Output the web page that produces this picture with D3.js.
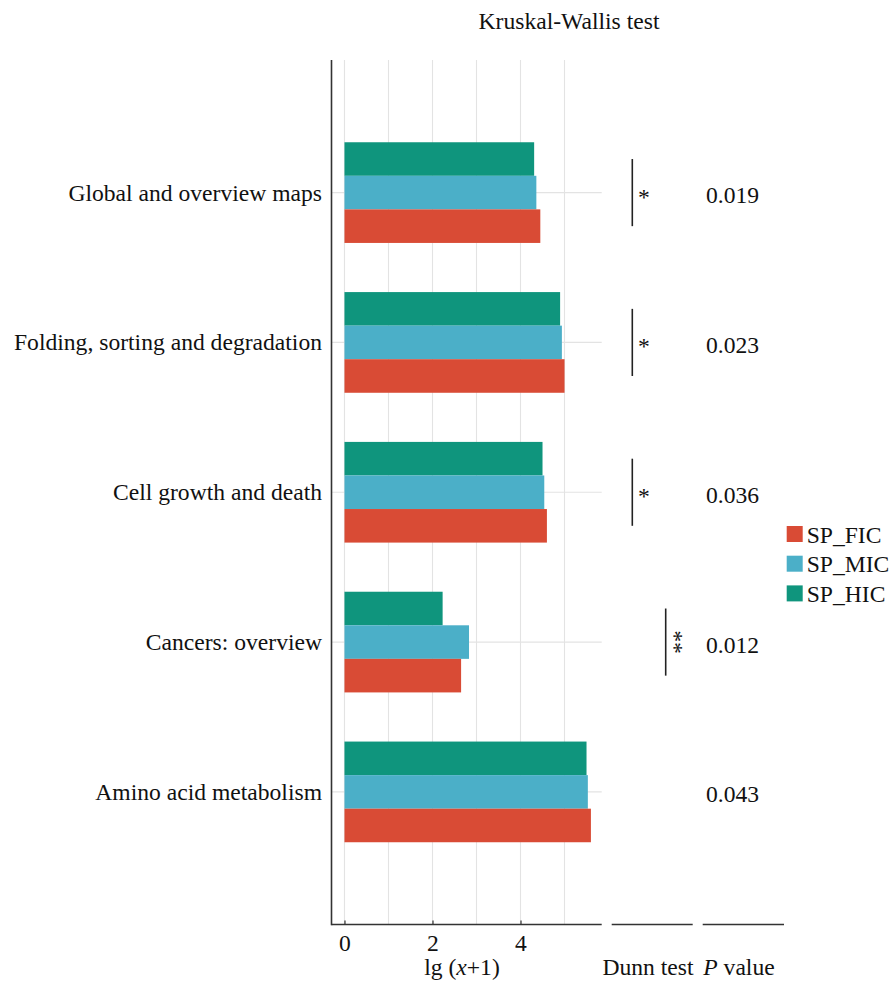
<!DOCTYPE html>
<html>
<head>
<meta charset="utf-8">
<script src="https://cdn.jsdelivr.net/npm/d3@7"></script>
<style>
  html, body { margin: 0; padding: 0; background: #fff; }
  svg { display: block; font-family: "Liberation Serif", "Times New Roman", serif; }
</style>
</head>
<body>
<svg id="chart" width="892" height="987"></svg>
<script>
// KEGG pathway abundance, lg(x+1), per group
const categories = [
  "Global and overview maps",
  "Folding, sorting and degradation",
  "Cell growth and death",
  "Cancers: overview",
  "Amino acid metabolism"
];
const groups = ["SP_HIC", "SP_MIC", "SP_FIC"];          // drawn top to bottom inside each category
const legendOrder = ["SP_FIC", "SP_MIC", "SP_HIC"];
const colors = { SP_FIC: "#D94B35", SP_MIC: "#4BAFC8", SP_HIC: "#0F957D" };

const valuesFIC = [4.45, 5.00, 4.60, 2.65, 5.60];
const valuesMIC = [4.36, 4.94, 4.54, 2.83, 5.53];
const valuesHIC = [4.31, 4.90, 4.50, 2.23, 5.50];

const xTicks = [0, 2, 4];
const xGrid = [0, 1, 2, 3, 4, 5];

// Dunn test: bracket from HIC to FIC, stars, column slot (0 = near, 1 = far)
const dunnStars = ["*", "*", "*", "**", ""];
const dunnSlot = [0, 0, 0, 1, null];
const pValues = ["0.019", "0.023", "0.036", "0.012", "0.043"];

const series = { SP_FIC: valuesFIC, SP_MIC: valuesMIC, SP_HIC: valuesHIC };

const svg = d3.select("#chart");
const fontSize = 23.6;
const ink = "#111";

// panel geometry
const panel = { left: 331.5, right: 601.7, top: 60, bottom: 924.5 };

const x = d3.scaleLinear().domain([-0.295, 5.845]).range([panel.left, panel.right]);
const y = d3.scalePoint().domain(categories).range([panel.top, panel.bottom]).padding(0.885);
const step = y.step();
const inner = d3.scaleBand().domain(groups).range([-0.336 * step, 0.336 * step]).padding(0);

// grid
const grid = svg.append("g");
grid.selectAll("line.v").data(xGrid).join("line")
  .attr("x1", d => x(d)).attr("x2", d => x(d))
  .attr("y1", panel.top).attr("y2", panel.bottom)
  .attr("stroke", "#e3e3e3").attr("stroke-width", 1.1);
grid.selectAll("line.h").data(categories).join("line")
  .attr("x1", panel.left).attr("x2", panel.right)
  .attr("y1", d => y(d)).attr("y2", d => y(d))
  .attr("stroke", "#e3e3e3").attr("stroke-width", 1.1);

// bars
const barsG = svg.append("g");
groups.forEach(g => {
  barsG.selectAll(null).data(categories).join("rect")
    .attr("x", x(0))
    .attr("y", d => y(d) + inner(g))
    .attr("width", (d, i) => x(series[g][i]) - x(0))
    .attr("height", inner.bandwidth())
    .attr("fill", colors[g]);
});

// axes
const xAxis = d3.axisBottom(x).tickValues(xTicks).tickSize(-4).tickPadding(10).tickFormat(d3.format("d"));
const xg = svg.append("g").attr("transform", `translate(0,${panel.bottom})`).call(xAxis);
xg.select(".domain").remove();
xg.selectAll(".tick line").attr("stroke", "#333").attr("stroke-width", 1.2);
xg.selectAll(".tick text").attr("font-size", fontSize).attr("fill", ink)
  .attr("font-family", "Liberation Serif, serif").attr("dy", "0.72em");

svg.append("line").attr("x1", panel.left).attr("x2", panel.right)
  .attr("y1", panel.bottom).attr("y2", panel.bottom).attr("stroke", "#333").attr("stroke-width", 1.6);
svg.append("line").attr("x1", panel.left).attr("x2", panel.left)
  .attr("y1", panel.top).attr("y2", panel.bottom + 0.8).attr("stroke", "#333").attr("stroke-width", 1.6);

// category labels
svg.append("g").selectAll("text").data(categories).join("text")
  .attr("x", 322).attr("y", d => y(d) + 8)
  .attr("text-anchor", "end").attr("font-size", fontSize).attr("fill", ink)
  .text(d => d);

// x axis title: lg (x+1)
const xt = svg.append("text").attr("x", 462).attr("y", 975)
  .attr("text-anchor", "middle").attr("font-size", fontSize).attr("fill", ink);
xt.append("tspan").text("lg (");
xt.append("tspan").attr("font-style", "italic").text("x");
xt.append("tspan").text("+1)");

// Dunn test panel
const dunn = { left: 611.7, right: 692.7 };
const slotX = [632.3, 665.7];
const dunnG = svg.append("g");
categories.forEach((c, i) => {
  if (dunnSlot[i] === null) return;
  const y1 = y(c) + inner("SP_HIC") + inner.bandwidth() / 2;
  const y2 = y(c) + inner("SP_FIC") + inner.bandwidth() / 2;
  const lx = slotX[dunnSlot[i]];
  dunnG.append("line").attr("x1", lx).attr("x2", lx).attr("y1", y1).attr("y2", y2)
    .attr("stroke", "#222").attr("stroke-width", 1.6);
  const stars = dunnStars[i];
  if (stars.length === 1) {
    dunnG.append("text").attr("x", lx + 11.5).attr("y", y(c) + 12)
      .attr("text-anchor", "middle").attr("font-size", fontSize).attr("fill", ink)
      .text(stars);
  } else {
    // several stars run down along the bracket
    const tx = lx + 1, ty = y(c);
    dunnG.append("text")
      .attr("transform", `translate(${tx},${ty}) rotate(90)`)
      .attr("text-anchor", "middle").attr("font-size", fontSize).attr("fill", ink)
      .text(stars);
  }
});
svg.append("line").attr("x1", dunn.left).attr("x2", dunn.right)
  .attr("y1", panel.bottom).attr("y2", panel.bottom).attr("stroke", "#333").attr("stroke-width", 1.6);
svg.append("text").attr("x", 648).attr("y", 975).attr("text-anchor", "middle")
  .attr("font-size", fontSize).attr("fill", ink).text("Dunn test");

// P value panel
const pv = { left: 702.7, right: 784 };
svg.append("g").selectAll("text").data(categories).join("text")
  .attr("x", 732.5).attr("y", d => y(d) + 10.5)
  .attr("text-anchor", "middle").attr("font-size", fontSize).attr("fill", ink)
  .text((d, i) => pValues[i]);
svg.append("line").attr("x1", pv.left).attr("x2", pv.right)
  .attr("y1", panel.bottom).attr("y2", panel.bottom).attr("stroke", "#333").attr("stroke-width", 1.6);
const pt = svg.append("text").attr("x", 739).attr("y", 975).attr("text-anchor", "middle")
  .attr("font-size", fontSize).attr("fill", ink);
pt.append("tspan").attr("font-style", "italic").text("P");
pt.append("tspan").text(" value");

// title
svg.append("text").attr("x", 569).attr("y", 29).attr("text-anchor", "middle")
  .attr("font-size", fontSize).attr("fill", ink).text("Kruskal-Wallis test");

// legend
const lg = svg.append("g").attr("transform", "translate(786.7,534)");
legendOrder.forEach((g, i) => {
  const row = lg.append("g").attr("transform", `translate(0,${i * 29.7})`);
  row.append("rect").attr("x", 0).attr("y", -8).attr("width", 16).attr("height", 16).attr("fill", colors[g]);
  row.append("text").attr("x", 20).attr("y", 8.5).attr("font-size", fontSize).attr("fill", ink).text(g);
});
</script>
</body>
</html>
